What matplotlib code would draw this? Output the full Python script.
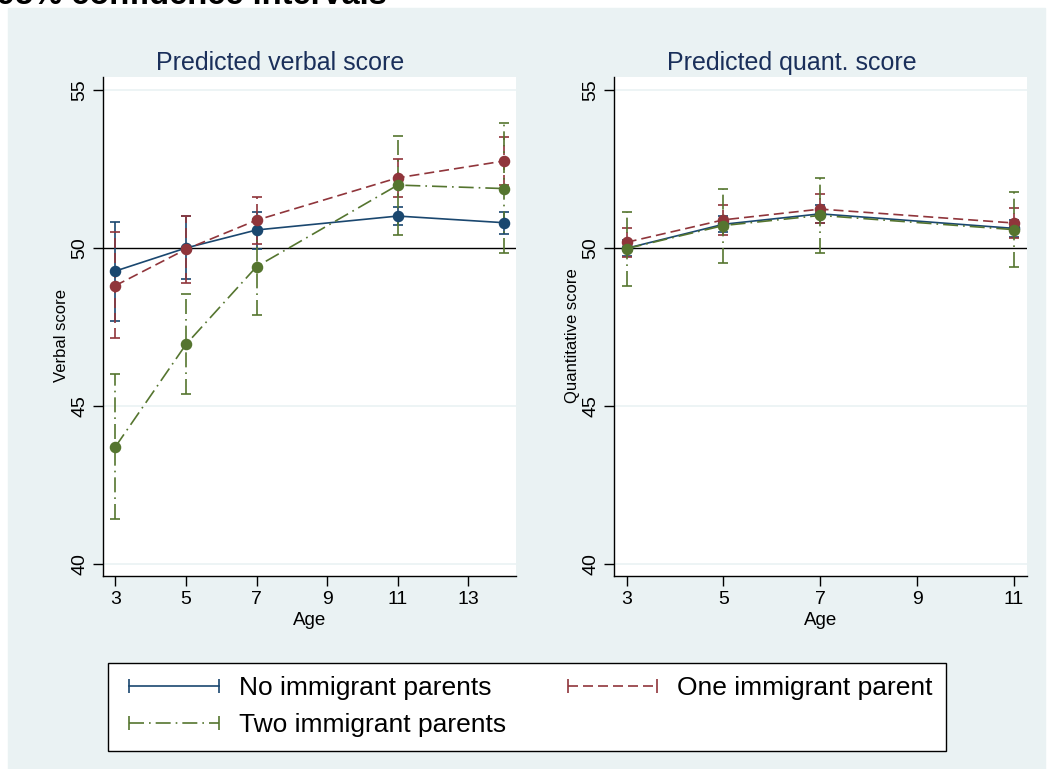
import matplotlib
matplotlib.use('Agg')
import matplotlib.pyplot as plt
from matplotlib.lines import Line2D
from matplotlib.patches import Rectangle

plt.rcParams['font.family'] = ['Liberation Sans', 'DejaVu Sans']

# Verbal score by age
verbal_age = [3, 5, 7, 11, 14]
verbal_none = [49.27, 50.00, 50.57, 51.01, 50.80]
verbal_none_lo = [47.69, 49.02, 49.97, 50.72, 50.45]
verbal_none_hi = [50.82, 51.00, 51.14, 51.31, 51.15]
verbal_one = [48.81, 49.96, 50.88, 52.22, 52.75]
verbal_one_lo = [47.14, 48.89, 50.13, 51.62, 51.99]
verbal_one_hi = [50.50, 51.01, 51.61, 52.82, 53.51]
verbal_two = [43.71, 46.95, 49.41, 51.99, 51.88]
verbal_two_lo = [41.42, 45.37, 47.89, 50.42, 49.83]
verbal_two_hi = [46.01, 48.53, 50.93, 53.55, 53.95]

# Quantitative score by age
quant_age = [3, 5, 7, 11]
quant_none = [49.99, 50.75, 51.08, 50.62]
quant_none_lo = [49.75, 50.50, 50.80, 50.36]
quant_none_hi = [50.25, 51.00, 51.36, 50.88]
quant_one = [50.18, 50.89, 51.23, 50.79]
quant_one_lo = [49.70, 50.42, 50.78, 50.30]
quant_one_hi = [50.64, 51.35, 51.70, 51.28]
quant_two = [49.98, 50.71, 51.03, 50.58]
quant_two_lo = [48.80, 49.53, 49.85, 49.40]
quant_two_hi = [51.15, 51.88, 52.21, 51.76]

groups = ['No immigrant parents', 'One immigrant parent', 'Two immigrant parents']
colors = ['#1a476f', '#90353b', '#55752f']
styles = ['-', (0, (6, 3)), (0, (9, 3, 1, 3))]
bg = '#eaf2f3'

W, H = 1053, 769
fig = plt.figure(figsize=(W / 100, H / 100), dpi=100, facecolor='white')
fig.patches.append(Rectangle((8 / W, 0), (W - 16) / W, (H - 8) / H,
                             transform=fig.transFigure, color=bg, zorder=-10))
fig.text(-3 / W, 1 - 4 / H, '95% confidence intervals', fontsize=23.5,
         fontweight='bold', va='baseline', ha='left')


def panel(rect, ages, series, title, ylabel, xticks, xlim):
    ax = fig.add_axes([rect[0] / W, 1 - rect[3] / H, (rect[2] - rect[0]) / W,
                       (rect[3] - rect[1]) / H])
    ax.set_facecolor('white')
    for y in [40, 45, 55]:
        ax.axhline(y, color=bg, lw=1.2, zorder=0)
    ax.axhline(50, color='black', lw=1.0, zorder=1)
    for (mean, lo, hi), c, ls in zip(series, colors, styles):
        err = [[m - l for m, l in zip(mean, lo)], [h - m for m, h in zip(mean, hi)]]
        eb = ax.errorbar(ages, mean, yerr=err, color=c, lw=1.2, ls=ls,
                         marker='o', ms=7.3, capsize=3.8, capthick=1.2,
                         elinewidth=1.2, zorder=3)
        eb[2][0].set_linestyle(ls)
    ax.set_xlim(*xlim)
    ax.set_ylim(39.62, 55.41)
    ax.set_xticks(xticks)
    ax.set_yticks([40, 45, 50, 55])
    ax.set_yticklabels(['40', '45', '50', '55'], rotation=90, va='center')
    ax.tick_params(labelsize=14, length=7, width=1, direction='out')
    for s in ['top', 'right']:
        ax.spines[s].set_visible(False)
    ax.spines['left'].set_linewidth(1.0)
    ax.spines['bottom'].set_linewidth(1.0)
    # title is centred over the whole sub-graph, axis labels included
    ax.set_title(title, fontsize=18, color='#1a2f5a', pad=5, x=0.43)
    ax.set_xlabel('Age', fontsize=13.5, labelpad=3)
    ax.set_ylabel(ylabel, fontsize=12, labelpad=2)
    ax.yaxis.label.set_y(0.481)
    return ax


panel((103, 77, 516, 576), verbal_age,
      [(verbal_none, verbal_none_lo, verbal_none_hi),
       (verbal_one, verbal_one_lo, verbal_one_hi),
       (verbal_two, verbal_two_lo, verbal_two_hi)],
      'Predicted verbal score', 'Verbal score', [3, 5, 7, 9, 11, 13], (2.648, 14.35))
panel((614, 77, 1027, 576), quant_age,
      [(quant_none, quant_none_lo, quant_none_hi),
       (quant_one, quant_one_lo, quant_one_hi),
       (quant_two, quant_two_lo, quant_two_hi)],
      'Predicted quant. score', 'Quantitative score', [3, 5, 7, 9, 11], (2.738, 11.27))

handles = [Line2D([0], [0], color=c, ls=ls, lw=1.2, marker='|', ms=10, mew=1.2)
           for c, ls in zip(colors, styles)]
# matplotlib fills columns first; reorder so rows read like the reference
order = [0, 2, 1]
leg = fig.legend([handles[i] for i in order], [groups[i] for i in order],
                 ncol=2, loc='upper left', bbox_to_anchor=(108 / W, 1 - 663 / H),
                 fontsize=19, numpoints=2, handlelength=4.0, handletextpad=0.45,
                 columnspacing=2.05, frameon=True, fancybox=False,
                 edgecolor='black', framealpha=1, borderaxespad=0,
                 borderpad=0.5, labelspacing=0.5)
leg.get_frame().set_linewidth(1.0)

fig.savefig('out.png', dpi=100, facecolor='white')
